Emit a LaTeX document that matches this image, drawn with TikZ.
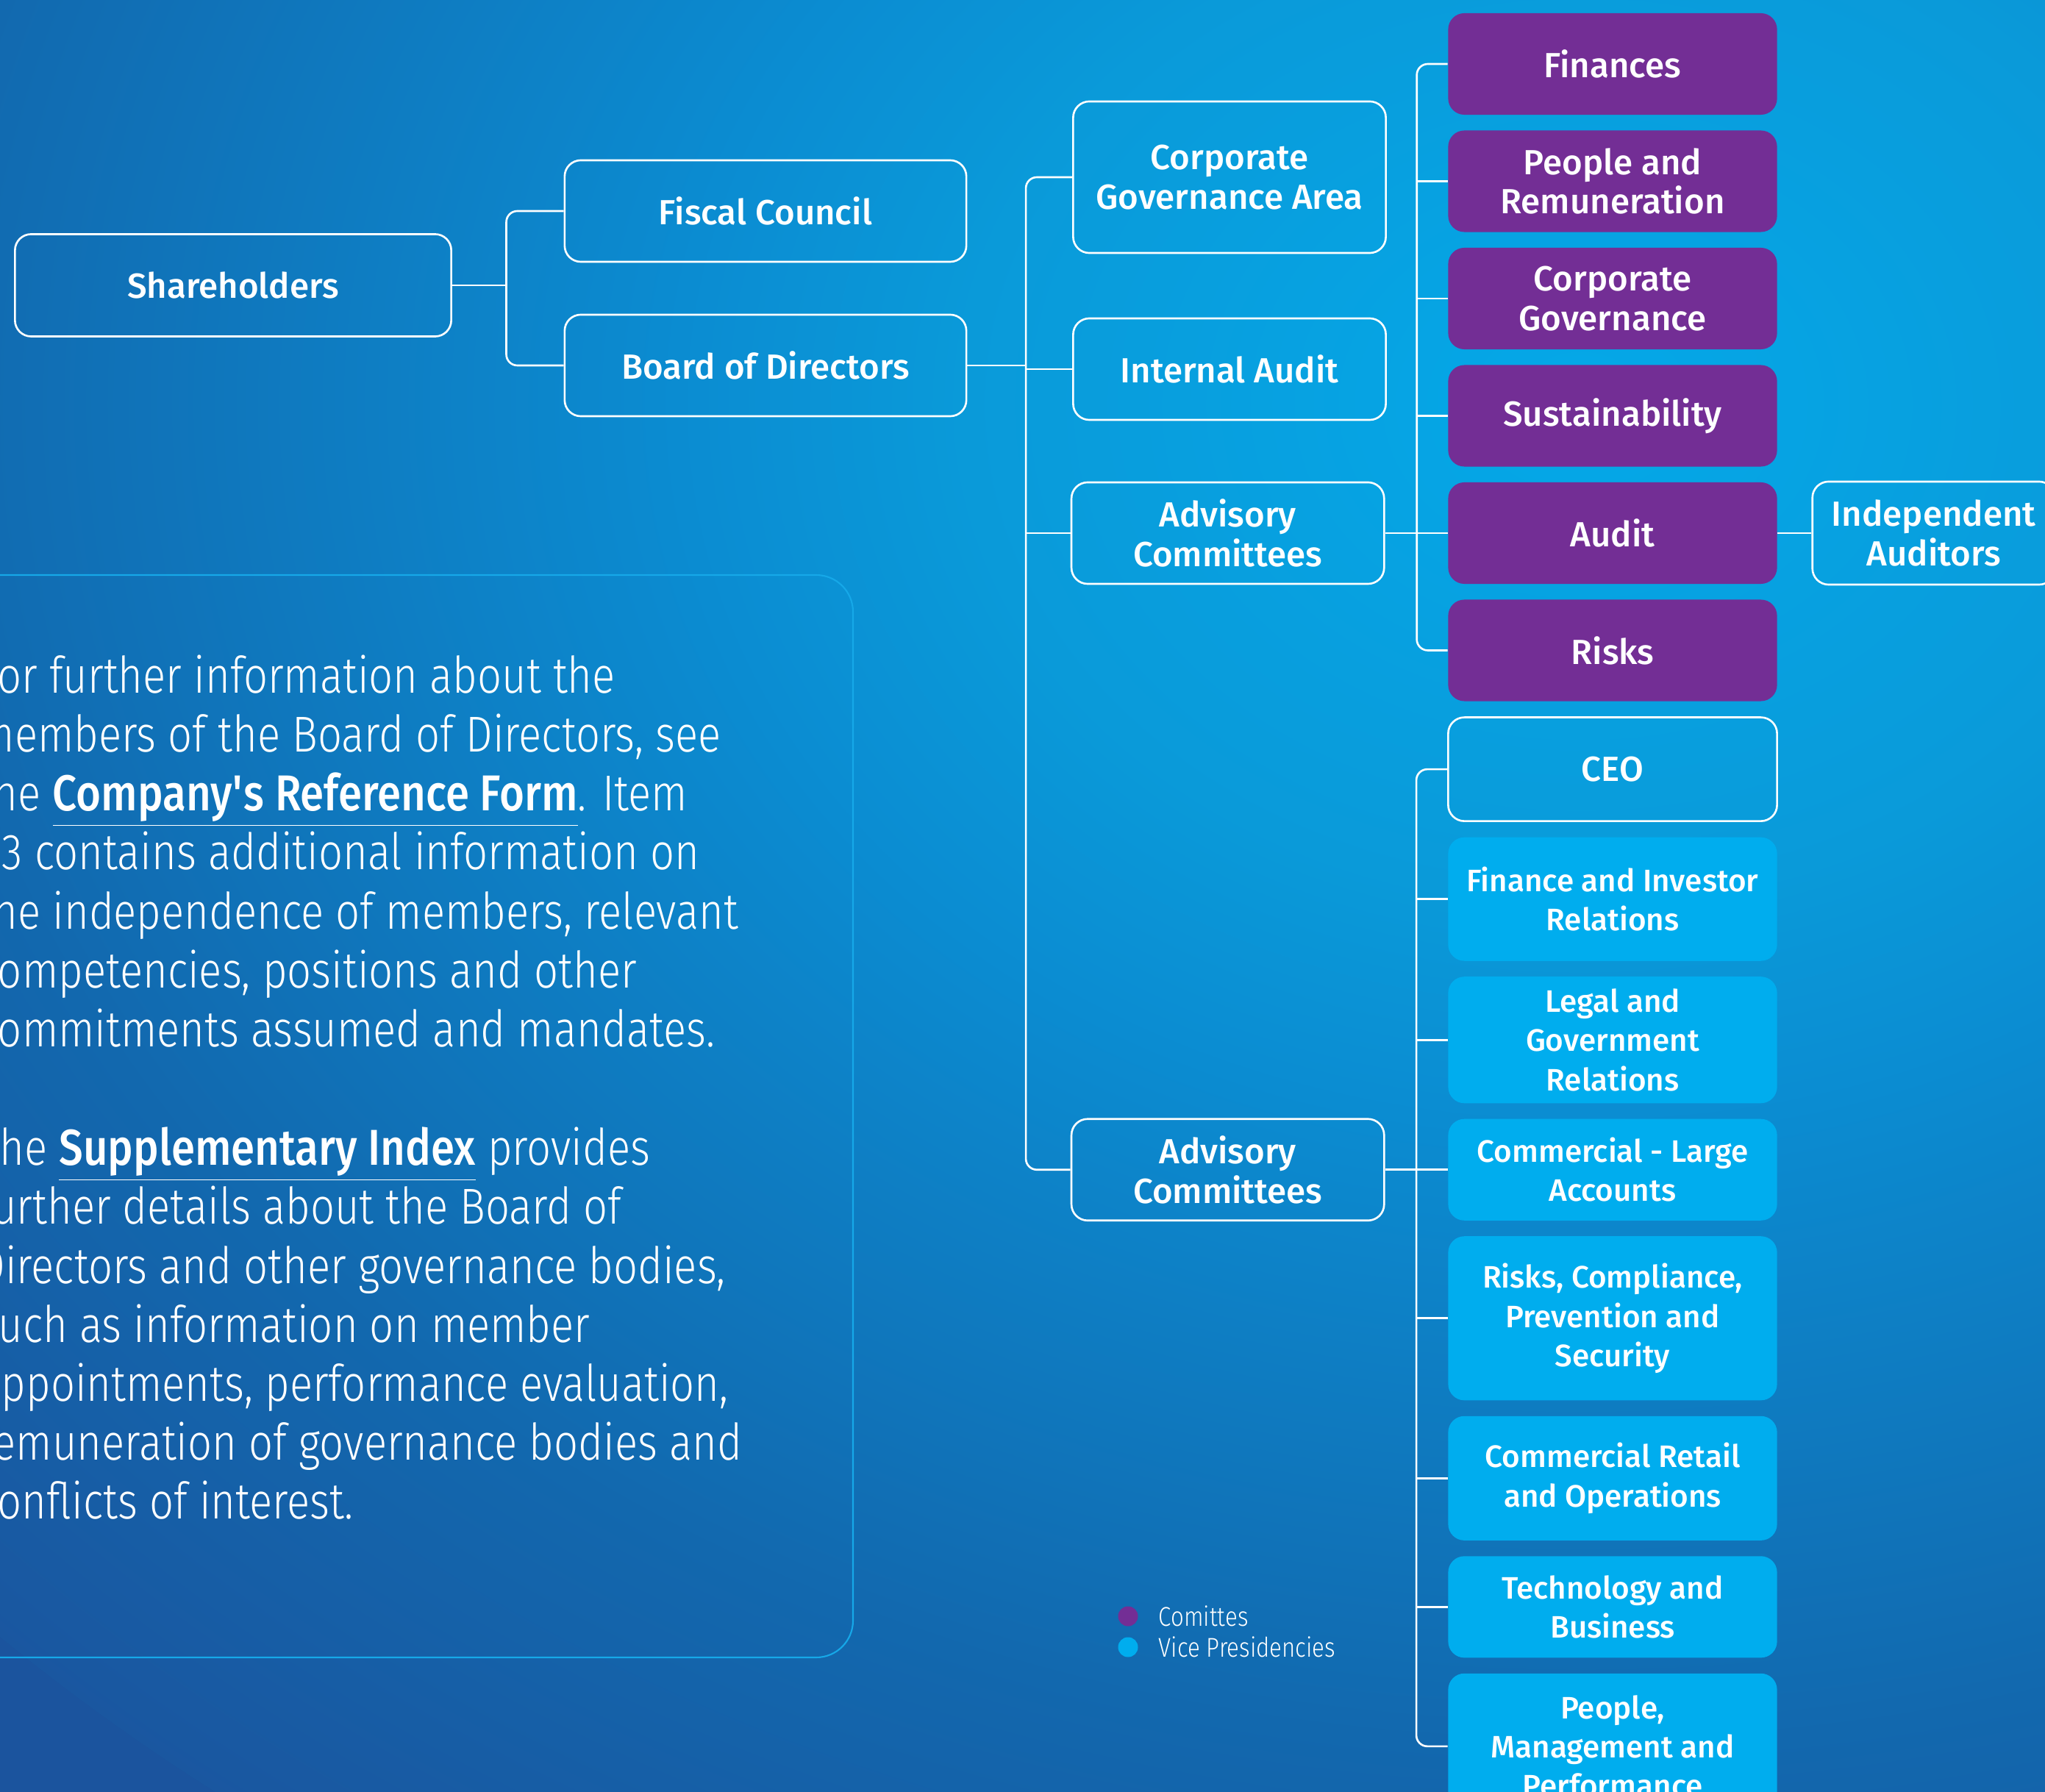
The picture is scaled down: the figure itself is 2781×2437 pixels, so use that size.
\documentclass[tikz,border=0pt]{standalone}
\usepackage{fontspec}
\setmainfont{Fira Sans}
\IfFontExistsTF{Fira Sans Medium}
  {\newfontfamily\boxfont{Fira Sans Medium}
   \newfontfamily\linkfont{Fira Sans Medium}[FakeStretch=0.85]}
  {\newcommand\boxfont{\bfseries}\newcommand\linkfont{\bfseries}}
\IfFontExistsTF{Fira Sans Light}
  {\newfontfamily\lightfont{Fira Sans Light}[FakeStretch=0.845]}
  {\newfontfamily\lightfont{Fira Sans}[FakeStretch=0.845]}
\usetikzlibrary{positioning}

\definecolor{comPurple}{RGB}{115,46,149}
\definecolor{vpBlue}{RGB}{0,173,238}
\definecolor{frameCyan}{RGB}{22,168,232}
\definecolor{bgA}{RGB}{4,168,232}
\definecolor{bgB}{RGB}{10,154,217}
\definecolor{bgC}{RGB}{11,141,210}
\definecolor{bgD}{RGB}{18,104,174}
\definecolor{bgE}{RGB}{27,84,158}
\pgfdeclareradialshading{bgglow}{\pgfpointorigin}{color(0bp)=(bgA); color(7bp)=(bgB); color(10bp)=(bgC); color(19bp)=(bgD); color(26bp)=(bgE); color(50bp)=(bgE)}

\tikzset{
lbox/.style={draw=white,line width=0.75pt,rounded corners=0.22cm,text=white,align=center,inner sep=2pt,
font=\boxfont\fontsize{13.5}{15.2}\selectfont},
combox/.style={fill=comPurple,rounded corners=0.22cm,text=white,align=center,inner sep=2pt,
minimum width=4.47cm,minimum height=1.38cm,font=\boxfont\fontsize{13.5}{15.2}\selectfont},
vpbox/.style={fill=vpBlue,rounded corners=0.22cm,text=white,align=center,inner sep=2pt,
minimum width=4.47cm,font=\boxfont\fontsize{12}{15.2}\selectfont},
link/.style={draw=white,line width=0.75pt,rounded corners=0.15cm},
infotext/.style={text=white,align=left,inner sep=0pt,font=\lightfont\fontsize{19.5}{22.8}\selectfont},
keydot/.style={circle,inner sep=0pt,minimum size=0.27cm},
keytext/.style={text=white,inner sep=0pt,font=\lightfont\fontsize{10.5}{12}\selectfont}
}

\begin{document}
\begin{tikzpicture}[x=0.01cm,y=-0.01cm]
\useasboundingbox (0,0) rectangle (2781,2437);
\clip (0,0) rectangle (2781,2437);
\fill[bgE] (0,0) rectangle (2781,2437);
\shade[shading=bgglow] (2150,550) ellipse [x radius=30cm,y radius=24cm];

% text panel
\draw[frameCyan,line width=0.6pt,rounded corners=0.5cm] (-100,782) rectangle (1160,2254);
\node[infotext,anchor=north west] (info) at (-30,890) {For further information about the\\
members of the Board of Directors, see\\
the \underline{\linkfont Company\textquotesingle s Reference Form}. Item\\
7.3 contains additional information on\\
the independence of members, relevant\\
competencies, positions and other\\
commitments assumed and mandates.\\[0.81cm]
The \underline{\linkfont Supplementary Index} provides\\
further details about the Board of\\
Directors and other governance bodies,\\
such as information on member\\
appointments, performance evaluation,\\
remuneration of governance bodies and\\
conflicts of interest.};

% committees
\node[combox] (fin) at (2193,87) {Finances};
\node[combox,below=0.20cm of fin] (remun) {People and\\Remuneration};
\node[combox,below=0.20cm of remun] (corpgov) {Corporate\\Governance};
\node[combox,below=0.20cm of corpgov] (sustain) {Sustainability};
\node[combox,below=0.20cm of sustain] (auditc) {Audit};
\node[combox,below=0.20cm of auditc] (risks) {Risks};
\node[lbox,minimum width=3.30cm,minimum height=1.40cm,right=0.46cm of auditc] (indep) {Independent\\Auditors};

% vice presidencies
\node[lbox,minimum width=4.47cm,minimum height=1.41cm,below=0.20cm of risks] (ceo) {CEO};
\node[vpbox,minimum height=1.68cm,below=0.20cm of ceo] (finrel) {Finance and Investor\\Relations};
\node[vpbox,minimum height=1.72cm,below=0.20cm of finrel] (legal) {Legal and\\Government\\Relations};
\node[vpbox,minimum height=1.38cm,below=0.20cm of legal] (large) {Commercial - Large\\Accounts};
\node[vpbox,minimum height=2.23cm,below=0.20cm of large] (riskvp) {Risks, Compliance,\\Prevention and\\Security};
\node[vpbox,minimum height=1.69cm,below=0.20cm of riskvp] (retail) {Commercial Retail\\and Operations};
\node[vpbox,minimum height=1.38cm,below=0.20cm of retail] (tech) {Technology and\\Business};
\node[vpbox,minimum height=1.98cm,below=0.20cm of tech] (people) {People,\\Management and\\Performance};

% governance bodies
\node[lbox,minimum width=5.93cm,minimum height=1.39cm] (share) at (317,388) {Shareholders};
\node[lbox,minimum width=5.46cm,minimum height=1.38cm] (fiscal) at (1041,287) {Fiscal Council};
\node[lbox,minimum width=5.46cm,minimum height=1.38cm] (board) at (1041,497) {Board of Directors};
\node[lbox,minimum width=4.25cm,minimum height=2.06cm] (cga) at (1672,241) {Corporate\\Governance Area};
\node[lbox,minimum width=4.25cm,minimum height=1.38cm] (iaudit) at (1672,502) {Internal Audit};
\node[lbox,minimum width=4.25cm,minimum height=1.38cm,left=0.85cm of auditc] (advA) {Advisory\\Committees};
\node[lbox,minimum width=4.25cm,minimum height=1.38cm,left=0.85cm of large] (advB) {Advisory\\Committees};

% links
\draw[link] (fiscal.west) -- ++(-78,0) coordinate (busA) |- (board.west);
\draw[link] (share.east) -- (share.east -| busA);
\draw[link] (cga.west) -- ++(-63,0) coordinate (busB) |- (advB.west);
\draw[link] (board.east) -- (board.east -| busB);
\draw[link] (iaudit.west) -- (iaudit.west -| busB);
\draw[link] (advA.west) -- (advA.west -| busB);
\draw[link] (fin.west) -- ++(-42,0) coordinate (busC) |- (risks.west);
\foreach \n in {remun,corpgov,sustain}
  \draw[link] (\n.west) -- (\n.west -| busC);
\draw[link] (advA.east) -- (auditc.west);
\draw[link] (auditc.east) -- (indep.west);
\draw[link] (ceo.west) -- ++(-42,0) coordinate (busD) |- (people.west);
\foreach \n in {finrel,legal,riskvp,retail,tech}
  \draw[link] (\n.west) -- (\n.west -| busD);
\draw[link] (advB.east) -- (large.west);

% key
\node[keydot,fill=comPurple] (dotA) at (1534,2198) {};
\node[keydot,fill=vpBlue] (dotB) at (1534,2240) {};
\node[keytext,right=0.27cm of dotA] (keyA) {Comittes};
\node[keytext,right=0.27cm of dotB] (keyB) {Vice Presidencies};
\end{tikzpicture}
\end{document}
